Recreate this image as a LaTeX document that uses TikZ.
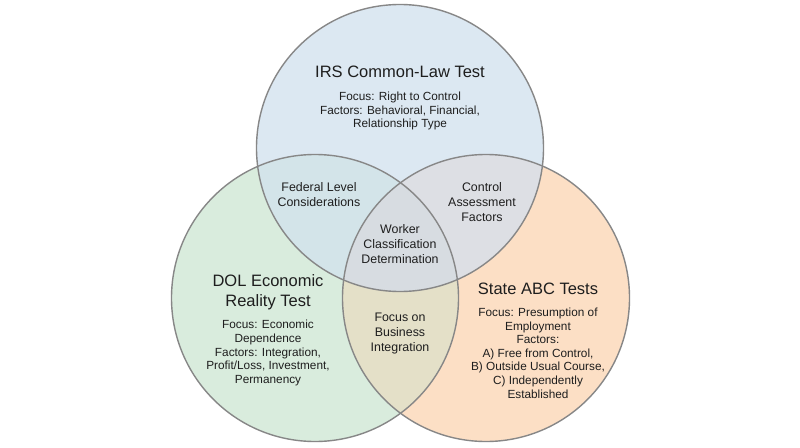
\documentclass[tikz,border=0pt]{standalone}
\usepackage{fontspec}
\setmainfont{Liberation Sans}
\definecolor{cblue}{RGB}{220,232,242}
\definecolor{cgreen}{RGB}{217,236,221}
\definecolor{corange}{RGB}{252,223,197}
\definecolor{ctl}{RGB}{211,228,233}
\definecolor{ctr}{RGB}{221,223,228}
\definecolor{clr}{RGB}{228,224,200}
\definecolor{cmid}{RGB}{215,220,225}
\definecolor{cedge}{RGB}{135,135,135}
\definecolor{ctext}{RGB}{30,30,30}
\tikzset{
  ring/.style={draw=cedge, line width=1.4pt},
  title/.style={text=ctext, align=center, font=\fontsize{16.5}{20}\selectfont, inner sep=0pt},
  detail/.style={text=ctext, align=center, font=\fontsize{11.8}{13.6}\selectfont, inner sep=0pt},
  overlap/.style={text=ctext, align=center, font=\fontsize{12.4}{15}\selectfont, inner sep=0pt}
}
\begin{document}
\begin{tikzpicture}[x=1pt,y=-1pt]
\useasboundingbox (0,0) rectangle (800,447);
\fill[white] (0,0) rectangle (800,447);
\coordinate (ct) at (400,148);
\coordinate (cl) at (315,298);
\coordinate (cr) at (486,298);
\def\rr{143.5}
\fill[corange] (cr) circle[radius=\rr];
\fill[cgreen] (cl) circle[radius=\rr];
\fill[cblue] (ct) circle[radius=\rr];
\begin{scope}
  \clip (ct) circle[radius=\rr];
  \fill[ctl] (cl) circle[radius=\rr];
  \fill[ctr] (cr) circle[radius=\rr];
\end{scope}
\begin{scope}
  \clip (cl) circle[radius=\rr];
  \fill[clr] (cr) circle[radius=\rr];
  \clip (ct) circle[radius=\rr];
  \fill[cmid] (cr) circle[radius=\rr];
\end{scope}
\draw[ring] (cr) circle[radius=\rr];
\draw[ring] (cl) circle[radius=\rr];
\draw[ring] (ct) circle[radius=\rr];

\node[title] (irs) at (400,72) {IRS Common-Law Test};
\node[detail] (irsd) at (400,111) {Focus: Right to Control\\Factors: Behavioral, Financial,\\Relationship Type};

\node[title] (dol) at (268,292) {DOL Economic\\Reality Test};
\node[detail] (dold) at (268,353) {Focus: Economic\\Dependence\\Factors: Integration,\\Profit/Loss, Investment,\\Permanency};

\node[title] (abc) at (538,289) {State ABC Tests};
\node[detail] (abcd) at (538,353) {Focus: Presumption of\\Employment\\Factors:\\A) Free from Control,\\B) Outside Usual Course,\\C) Independently\\Established};

\node[overlap] (fed) at (319,195) {Federal Level\\Considerations};
\node[overlap] (ctl) at (482,202) {Control\\Assessment\\Factors};
\node[overlap] (wcd) at (400,244) {Worker\\Classification\\Determination};
\node[overlap] (fbi) at (400,334) {Focus on\\Business\\Integration};
\end{tikzpicture}
\end{document}
